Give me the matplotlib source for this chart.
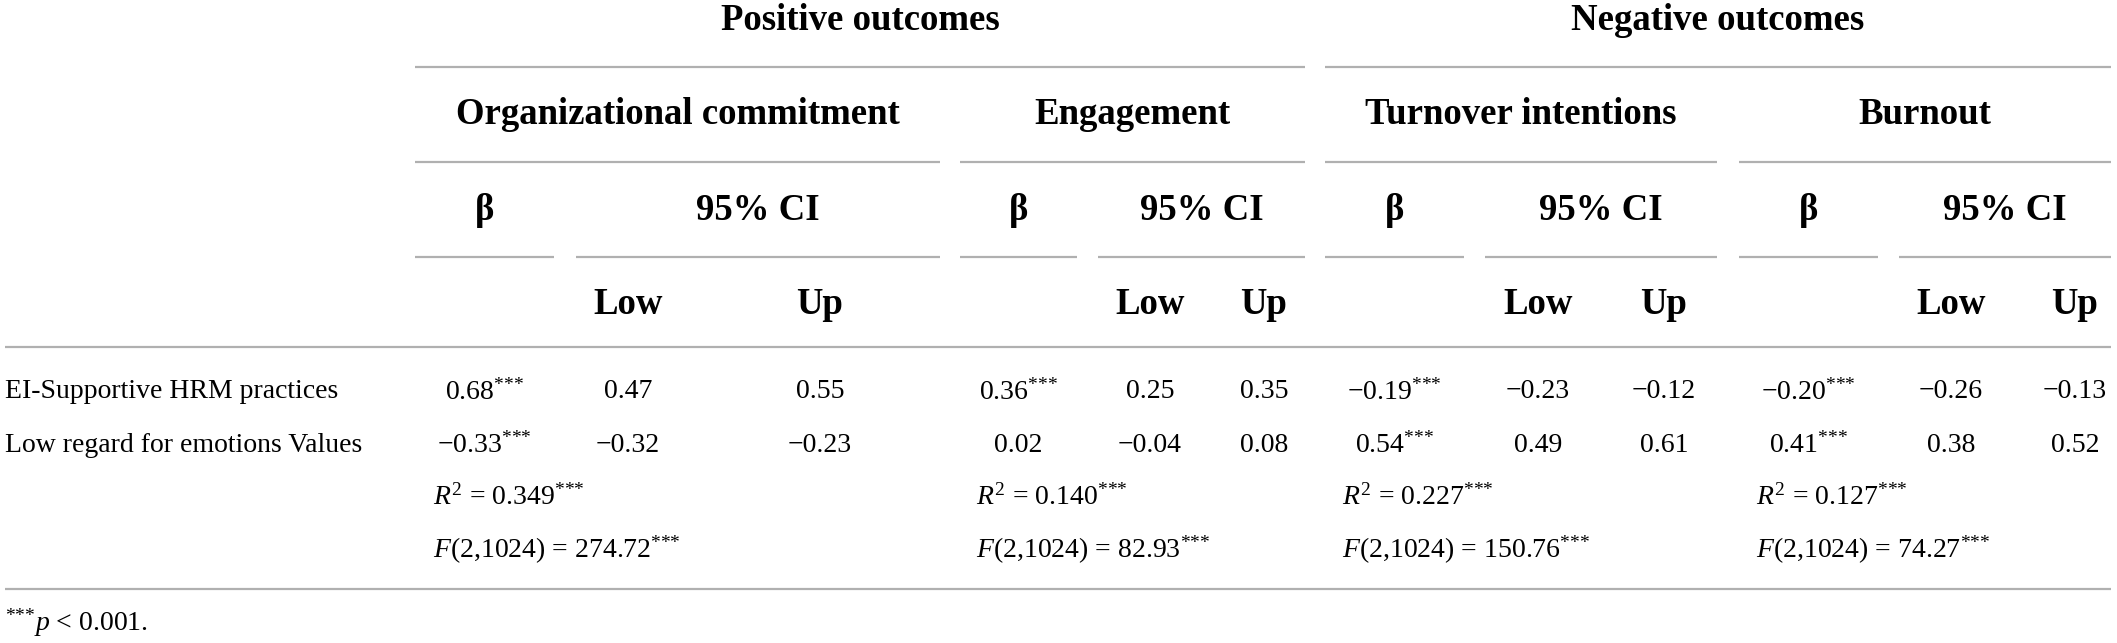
import matplotlib
matplotlib.use('Agg')
import matplotlib.pyplot as plt

plt.rcParams['font.family'] = ['Liberation Serif', 'DejaVu Serif']
plt.rcParams['mathtext.fontset'] = 'custom'
plt.rcParams['mathtext.rm'] = 'Liberation Serif'
plt.rcParams['mathtext.it'] = 'Liberation Serif:italic'
plt.rcParams['mathtext.bf'] = 'Liberation Serif:bold'

# table content
groups = ['Positive outcomes', 'Negative outcomes']
outcomes = ['Organizational commitment', 'Engagement', 'Turnover intentions', 'Burnout']
predictors = ['EI-Supportive HRM practices', 'Low regard for emotions Values']
beta = [[0.68, -0.33], [0.36, 0.02], [-0.19, 0.54], [-0.20, 0.41]]
beta_sig = [[True, True], [True, False], [True, True], [True, True]]
ci_low = [[0.47, -0.32], [0.25, -0.04], [-0.23, 0.49], [-0.26, 0.38]]
ci_up = [[0.55, -0.23], [0.35, 0.08], [-0.12, 0.61], [-0.13, 0.52]]
r2 = [0.349, 0.140, 0.227, 0.127]
f_val = [274.72, 82.93, 150.76, 74.27]
f_df = (2, 1024)

STARS = '$^{{*}{*}{*}}$'
note = STARS + '$\\mathit{p}$ < 0.001.'

# layout (pixels)
W, H = 2117, 643
grp_span = [(415, 1305), (1325, 2111)]
out_span = [(415, 940), (960, 1305), (1325, 1717), (1739, 2111)]
beta_span = [(415, 554), (960, 1077), (1325, 1464), (1739, 1878)]
ci_span = [(576, 940), (1098, 1305), (1485, 1717), (1899, 2111)]
low_x = [628, 1150, 1538, 1951]
up_x = [820, 1264, 1664, 2075]
stat_x = [433, 976, 1342, 1756]
row_y = [392, 445]
r2_y, f_y = 497, 550
line_col = '#b0b0b0'
hdr_fs = 26.5
body_fs = 20


def fmt(v):
    s = '%.2f' % abs(v)
    return ('\u2212' + s) if v < 0 else s


def star(s, sig=True):
    return s + STARS if sig else s


fig = plt.figure(figsize=(W / 100, H / 100), dpi=100)
ax = fig.add_axes([0, 0, 1, 1])
ax.set_xlim(0, W)
ax.set_ylim(H, 0)
ax.axis('off')


def hline(x0, x1, y):
    ax.plot([x0, x1], [y, y], color=line_col, lw=1.6, solid_capstyle='butt')


def mid(span):
    return (span[0] + span[1]) / 2


# header rows
for g, sp in zip(groups, grp_span):
    ax.text(mid(sp), 21, g, ha='center', va='center', fontsize=hdr_fs, fontweight='bold')
    hline(sp[0], sp[1], 67)
for o, sp in zip(outcomes, out_span):
    ax.text(mid(sp), 114, o, ha='center', va='center', fontsize=hdr_fs, fontweight='bold')
    hline(sp[0], sp[1], 162)
for i in range(4):
    ax.text(mid(beta_span[i]), 210, '\u03b2', ha='center', va='center', fontsize=hdr_fs, fontweight='bold')
    ax.text(mid(ci_span[i]), 210, '95% CI', ha='center', va='center', fontsize=hdr_fs, fontweight='bold')
    hline(beta_span[i][0], beta_span[i][1], 257)
    hline(ci_span[i][0], ci_span[i][1], 257)
    ax.text(low_x[i], 304, 'Low', ha='center', va='center', fontsize=hdr_fs, fontweight='bold')
    ax.text(up_x[i], 304, 'Up', ha='center', va='center', fontsize=hdr_fs, fontweight='bold')
hline(5, 2111, 347)

# body
for r, name in enumerate(predictors):
    ax.text(5, row_y[r], name, ha='left', va='center', fontsize=body_fs)
    for i in range(4):
        ax.text(mid(beta_span[i]), row_y[r], star(fmt(beta[i][r]), beta_sig[i][r]),
                ha='center', va='center', fontsize=body_fs)
        ax.text(low_x[i], row_y[r], fmt(ci_low[i][r]), ha='center', va='center', fontsize=body_fs)
        ax.text(up_x[i], row_y[r], fmt(ci_up[i][r]), ha='center', va='center', fontsize=body_fs)

for i in range(4):
    ax.text(stat_x[i], r2_y, '$\\mathit{R}^{2}$ = ' + star('%.3f' % r2[i]),
            ha='left', va='center', fontsize=body_fs)
    ax.text(stat_x[i], f_y, '$\\mathit{F}$(%d,%d) = ' % f_df + star('%.2f' % f_val[i]),
            ha='left', va='center', fontsize=body_fs)
hline(5, 2111, 589)

ax.text(5, 623, note, ha='left', va='center', fontsize=body_fs)

fig.savefig('out.png', dpi=100)
